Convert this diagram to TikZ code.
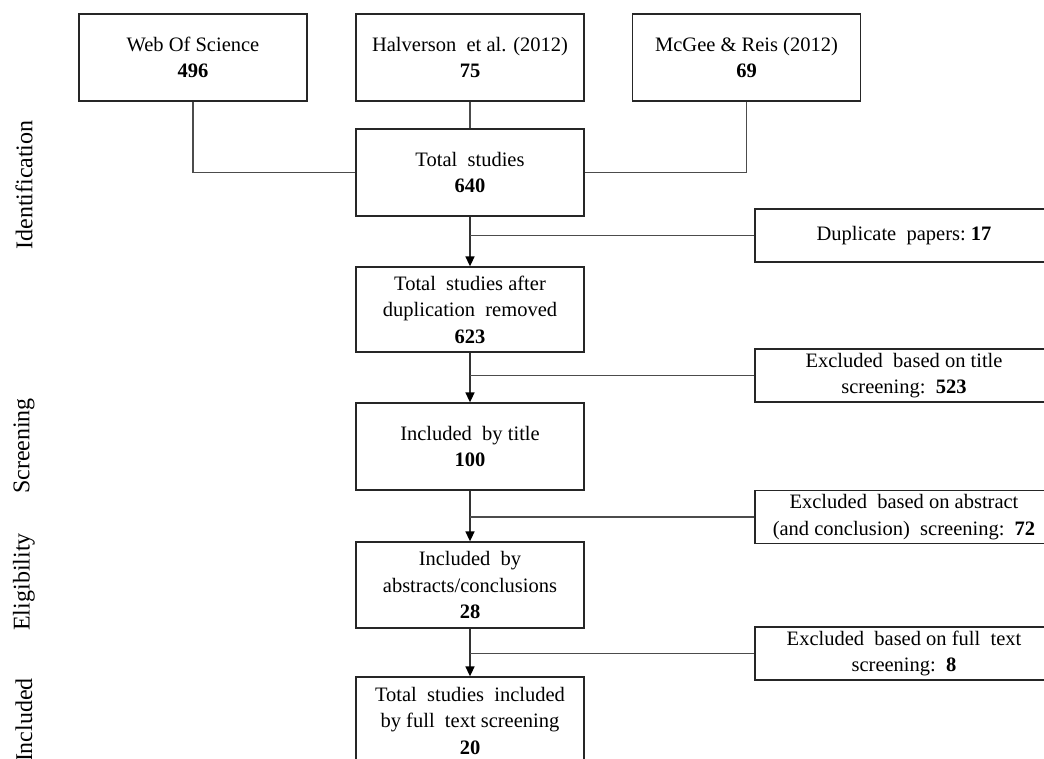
\documentclass[tikz,border=0pt]{standalone}
\usepackage{fontspec}
\setmainfont{Liberation Serif}
\usetikzlibrary{arrows.meta}
\begin{document}
\begin{tikzpicture}[x=1pt,y=-1pt,
  box/.style={draw=black!85, line width=1.3pt, rectangle, align=center, inner sep=0pt,
    font=\fontsize{20.5}{26.5}\selectfont},
  bigbox/.style={box, minimum width=228pt, minimum height=87pt},
  exbox/.style={box, minimum width=298pt, minimum height=53pt},
  link/.style={draw=black!70, line width=1.7pt},
  arr/.style={draw=black!80, line width=1.6pt, -{Triangle[width=9pt,length=10pt,color=black]}},
  side/.style={rotate=90, inner sep=0pt, font=\fontsize{24}{28}\selectfont}]
\useasboundingbox (0,0) rectangle (1044,758);
\clip (0,0) rectangle (1044,758);
\fill[white] (0,0) rectangle (1044,758);

% side labels
\node[side] (lid) at (24,185) {Identification};
\node[side] (lsc) at (24,446) {Screening};
\node[side] (lel) at (24,582) {Eligibility};
\node[side] (lin) at (24,720) {Included};

% top sources
\node[bigbox] (web) at (193,57.5) {Web Of Science\\\textbf{496}};
\node[bigbox] (halv) at (470,57.5) {Halverson\ \ et al. (2012)\\\textbf{75}};
\node[bigbox] (mcg) at (746.5,57.5) {McGee \& Reis (2012)\\\textbf{69}};

% main column
\node[bigbox] (tot) at (470,172.5) {Total\ \ studies\\\textbf{640}};
\node[bigbox, minimum height=85pt] (aft) at (470,309.5) {Total\ \ studies after\\duplication\ \ removed\\\textbf{623}};
\node[bigbox] (tit) at (470,446.5) {Included\ \ by title\\\textbf{100}};
\node[bigbox, minimum height=86pt] (abs) at (470,585) {Included\ \ by\\abstracts/conclusions\\\textbf{28}};
\node[bigbox] (fin) at (470,720.5) {Total\ \ studies\ \ included\\by full\ \ text screening\\\textbf{20}};

% exclusion boxes
\node[exbox] (dup) at (904,235.5) {Duplicate\ \ papers:\ \textbf{17}};
\node[exbox] (ext) at (904,375.5) {Excluded\ \ based on title\\screening:\ \ \textbf{523}};
\node[exbox] (exa) at (904,517) {Excluded\ \ based on abstract\\(and conclusion)\ \ screening:\ \ \textbf{72}};
\node[exbox] (exf) at (904,653.5) {Excluded\ \ based on full\ \ text\\screening:\ \ \textbf{8}};

% source connectors
\draw[link] (web.south) |- (tot.west);
\draw[link] (mcg.south) |- (tot.east);
\draw[link] (halv.south) -- (tot.north);

% main arrows
\draw[arr] (tot.south) -- (aft.north);
\draw[arr] (aft.south) -- (tit.north);
\draw[arr] (tit.south) -- (abs.north);
\draw[arr] (abs.south) -- (fin.north);

% exclusion branches
\draw[link] (dup.west) -- (dup.west -| tot.south);
\draw[link] (ext.west) -- (ext.west -| aft.south);
\draw[link] (exa.west) -- (exa.west -| tit.south);
\draw[link] (exf.west) -- (exf.west -| abs.south);
\end{tikzpicture}
\end{document}
